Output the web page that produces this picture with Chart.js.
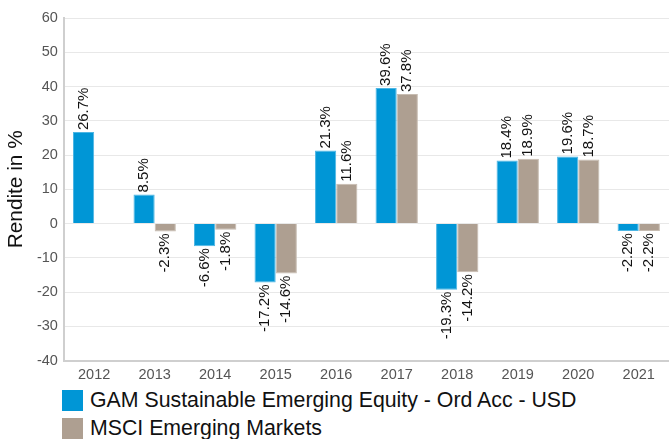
<!DOCTYPE html>
<html>
<head>
<meta charset="utf-8">
<script src="https://cdn.jsdelivr.net/npm/chart.js@4"></script>
<style>
  html, body { margin: 0; padding: 0; background: #fff; }
  body { width: 669px; height: 439px; overflow: hidden; font-family: "Liberation Sans", Arial, sans-serif; }
  #wrap { position: relative; width: 669px; height: 382px; }
  #legend { position: absolute; left: 62px; top: 386px; }
  .item { display: flex; align-items: center; height: 28px; font-size: 21.3px; color: #111; white-space: nowrap; }
  .box { width: 21px; height: 21px; margin-right: 7px; flex: none; }
</style>
</head>
<body>
<div id="wrap"><canvas id="chart" width="669" height="382"></canvas></div>
<div id="legend"></div>
<script>
// Jahresrenditen in %
const years = ['2012', '2013', '2014', '2015', '2016', '2017', '2018', '2019', '2020', '2021'];
const gamValues = [26.7, 8.5, -6.6, -17.2, 21.3, 39.6, -19.3, 18.4, 19.6, -2.2];
const msciValues = [null, -2.3, -1.8, -14.6, 11.6, 37.8, -14.2, 18.9, 18.7, -2.2];
const seriesNames = ['GAM Sustainable Emerging Equity - Ord Acc - USD', 'MSCI Emerging Markets'];
const seriesColors = ['#0096d6', '#ae9f91'];
const borderColors = ['#4db6e4', '#c7bcb1'];
const fontFamily = '"Liberation Sans", Arial, sans-serif';

// rotated value labels at the bar ends
const barLabels = {
    id: 'barLabels',
    afterDatasetsDraw(chart) {
        const ctx = chart.ctx;
        ctx.save();
        ctx.font = '15px ' + fontFamily;
        ctx.fillStyle = '#111';
        ctx.textBaseline = 'middle';
        chart.data.datasets.forEach((ds, i) => {
            chart.getDatasetMeta(i).data.forEach((bar, j) => {
                const v = ds.data[j];
                if (v === null || v === undefined) return;
                const txt = v.toFixed(1) + '%';
                ctx.save();
                ctx.translate(bar.x, bar.y);
                ctx.rotate(-Math.PI / 2);
                if (v >= 0) {
                    ctx.textAlign = 'left';
                    ctx.fillText(txt, 2, 0);
                } else {
                    ctx.textAlign = 'right';
                    ctx.fillText(txt, -2, 0);
                }
                ctx.restore();
            });
        });
        ctx.restore();
    }
};

const chart = new Chart(document.getElementById('chart'), {
    type: 'bar',
    data: {
        labels: years,
        datasets: [
            { label: seriesNames[0], data: gamValues, backgroundColor: seriesColors[0], borderColor: borderColors[0], borderWidth: 1 },
            { label: seriesNames[1], data: msciValues, backgroundColor: seriesColors[1], borderColor: borderColors[1], borderWidth: 1 }
        ]
    },
    options: {
        responsive: false,
        animation: false,
        devicePixelRatio: 1,
        layout: { padding: { top: 18, right: 0, left: 0, bottom: 0 } },
        datasets: { bar: { categoryPercentage: 0.7, barPercentage: 1.0 } },
        plugins: { legend: { display: false }, tooltip: { enabled: false } },
        scales: {
            x: {
                grid: { display: false },
                border: { color: '#cfcfcf', width: 2 },
                ticks: { color: '#555', font: { size: 14.5, family: fontFamily }, padding: -2 }
            },
            y: {
                min: -40,
                max: 60,
                ticks: { stepSize: 10, color: '#555', font: { size: 14.5, family: fontFamily }, padding: 6 },
                grid: { color: '#e8e8e8', drawTicks: false },
                border: { color: '#cfcfcf', width: 2 },
                title: { display: true, text: 'Rendite in %', color: '#111', font: { size: 20.8, family: fontFamily }, padding: { top: 4, bottom: 2 } }
            }
        }
    },
    plugins: [barLabels]
});

// legend
const legend = document.getElementById('legend');
seriesNames.forEach((name, i) => {
    const item = document.createElement('div');
    item.className = 'item';
    item.innerHTML = '<span class="box" style="background:' + seriesColors[i] + '"></span>' + name;
    legend.appendChild(item);
});
</script>
</body>
</html>
